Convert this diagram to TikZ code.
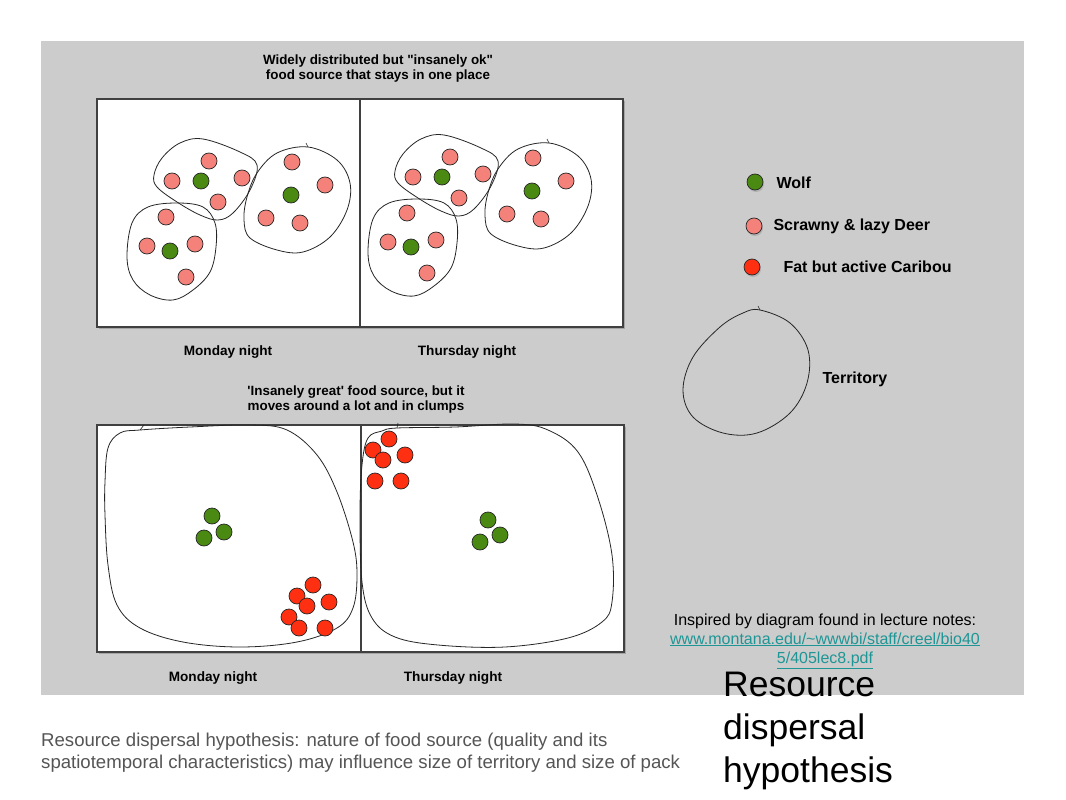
\documentclass[tikz,border=0pt]{standalone}
\usepackage{fontspec}
\setmainfont{Liberation Sans}[Ligatures=TeXOff]
\usetikzlibrary{shadows}
\definecolor{bggray}{RGB}{204,204,204}
\definecolor{wolfc}{RGB}{74,138,18}
\definecolor{deerc}{RGB}{245,130,122}
\definecolor{cariboc}{RGB}{255,48,18}
\definecolor{linkc}{RGB}{30,150,150}
\definecolor{txtgray}{RGB}{85,85,85}
\begin{document}
\begin{tikzpicture}[x=1pt,y=-1pt,
  animal/.style={circle,draw=black!85,line width=0.7pt,minimum size=16pt,inner sep=0pt},
  wolf/.style={animal,fill=wolfc},
  deer/.style={animal,fill=deerc},
  caribou/.style={animal,fill=cariboc},
  legend/.style={animal,minimum size=19pt,drop shadow={opacity=0.35,shadow xshift=1pt,shadow yshift=-2pt}},
  panel/.style={draw=black!75,line width=1.1pt,fill=white,drop shadow={opacity=0.5,shadow xshift=2pt,shadow yshift=-2pt}},
  terr/.style={draw=black!85,line width=0.8pt},
  title/.style={font=\fontsize{13.4}{15}\selectfont\bfseries,align=center},
  lbl/.style={font=\fontsize{13.6}{15}\selectfont\bfseries},
  leg/.style={font=\fontsize{16}{18}\selectfont\bfseries,anchor=west}]
\useasboundingbox (0,0) rectangle (1066,800);
\fill[white] (0,0) rectangle (1066,800);
\fill[bggray] (41,41) rectangle (1024,695);

% titles
\node[title] (t1) at (378,69) {Widely distributed but "insanely ok"\\food source that stays in one place};
\node[title] (t2) at (356,400) {'Insanely great' food source, but it\\moves around a lot and in clumps};

% top panels
\path[panel] (97,99) rectangle (623,327);
\draw[black!75,line width=1.1pt] (360,99) -- (360,327);
\node[lbl] (mon1) at (228,352) {Monday night};
\node[lbl] (thu1) at (467,352) {Thursday night};

\foreach \dx/\dy/\p in {0/0/L,241/-4/R}{
\begin{scope}[shift={(\dx,\dy)}]
\draw[terr] plot[smooth cycle,tension=0.6] coordinates {(203,139) (240,152) (257,165) (250,190) (233,213) (218,220) (200,215) (177,202) (157,187) (154,175) (162,158) (180,143)};
\draw[terr] plot[smooth cycle,tension=0.6] coordinates {(177,203) (203,207) (215,223) (216,247) (210,272) (193,290) (173,300) (150,295) (133,280) (127,257) (132,223) (148,207)};
\draw[terr] plot[smooth cycle,tension=0.6] coordinates {(308,147) (337,160) (350,183) (347,210) (330,237) (303,252) (277,250) (250,238) (244,220) (247,197) (257,173) (277,153)};
\draw[terr,line width=0.6pt] (306,143) -- (308,147);
\node[deer] (\p a1) at (209,161) {};
\node[deer] (\p a2) at (172,181) {};
\node[wolf] (\p a3) at (201,181) {};
\node[deer] (\p a4) at (242,178) {};
\node[deer] (\p a5) at (218,202) {};
\node[deer] (\p b1) at (166,217) {};
\node[deer] (\p b2) at (147,246) {};
\node[wolf] (\p b3) at (170,251) {};
\node[deer] (\p b4) at (195,244) {};
\node[deer] (\p b5) at (186,277) {};
\node[deer] (\p c1) at (292,162) {};
\node[deer] (\p c2) at (325,185) {};
\node[wolf] (\p c3) at (291,195) {};
\node[deer] (\p c4) at (266,218) {};
\node[deer] (\p c5) at (300,223) {};
\end{scope}
}

% bottom panels
\path[panel] (97,425) rectangle (624,652);
\draw[black!75,line width=1.1pt] (361,425) -- (361,652);
\node[lbl] (mon2) at (213,678) {Monday night};
\node[lbl] (thu2) at (453,678) {Thursday night};

\draw[terr] plot[smooth cycle,tension=0.6] coordinates {(140,430) (190,427) (250,425) (287,430) (317,455) (337,492) (353,542) (357,575) (353,608) (337,628) (297,642) (240,647) (183,642) (140,628) (117,605) (108,565) (105,515) (105,482) (108,448) (120,433)};
\draw[terr] plot[smooth cycle,tension=0.6] coordinates {(397,428) (455,427) (515,424) (548,430) (578,452) (598,498) (612,555) (612,602) (602,622) (568,638) (505,647) (438,645) (395,637) (372,618) (362,582) (360,515) (362,465) (368,438) (382,431)};
\draw[terr,line width=0.6pt] (140,430) -- (144,425);
\draw[terr,line width=0.6pt] (397,428) -- (398,423);

\node[wolf] (bw1) at (212,516) {};
\node[wolf] (bw2) at (224,532) {};
\node[wolf] (bw3) at (204,538) {};
\node[caribou] (bc1) at (313,585) {};
\node[caribou] (bc2) at (297,596) {};
\node[caribou] (bc3) at (329,602) {};
\node[caribou] (bc4) at (307,606) {};
\node[caribou] (bc5) at (289,617) {};
\node[caribou] (bc6) at (299,628) {};
\node[caribou] (bc7) at (325,628) {};

\node[caribou] (rc1) at (389,439) {};
\node[caribou] (rc2) at (373,450) {};
\node[caribou] (rc3) at (405,455) {};
\node[caribou] (rc4) at (383,460) {};
\node[caribou] (rc5) at (375,481) {};
\node[caribou] (rc6) at (401,481) {};
\node[wolf] (rw1) at (488,520) {};
\node[wolf] (rw2) at (500,535) {};
\node[wolf] (rw3) at (480,542) {};

% legend
\node[legend,wolf] (lw) at (755,182) {};
\node[leg] (lwt) at (773,183) {Wolf};
\node[legend,deer] (ld) at (754,226) {};
\node[leg] (ldt) at (770,226) {Scrawny \& lazy Deer};
\node[legend,caribou] (lc) at (752,267) {};
\node[leg] (lct) at (780,267) {Fat but active Caribou};
\draw[terr] plot[smooth cycle,tension=0.6] coordinates {(760,310) (790,323) (808,350) (807,383) (790,413) (757,433) (723,433) (693,417) (683,390) (693,357) (720,327) (743,313)};
\draw[terr,line width=0.6pt] (758,306) -- (760,310);
\node[leg] (terrt) at (819,379) {Territory};

% notes
\node[font=\fontsize{16}{19}\selectfont,align=center] (insp) at (825,641) {Inspired by diagram found in lecture notes:\\\textcolor{linkc}{\underline{www.montana.edu/\textasciitilde wwwbi/staff/creel/bio40}}\\\textcolor{linkc}{\underline{5/405lec8.pdf}}};
\node[font=\fontsize{35.5}{43}\selectfont,align=left,anchor=north west,inner sep=0pt] (big) at (723,672) {Resource\\dispersal\\hypothesis};
\node[font=\fontsize{18.6}{22}\selectfont,text=txtgray,anchor=base west,inner sep=0pt] (cap1) at (41,746) {Resource dispersal hypothesis: nature of food source (quality and its};
\node[font=\fontsize{18.6}{22}\selectfont,text=txtgray,anchor=base west,inner sep=0pt] (cap2) at (41,768) {spatiotemporal characteristics) may influence size of territory and size of pack};
\end{tikzpicture}
\end{document}
